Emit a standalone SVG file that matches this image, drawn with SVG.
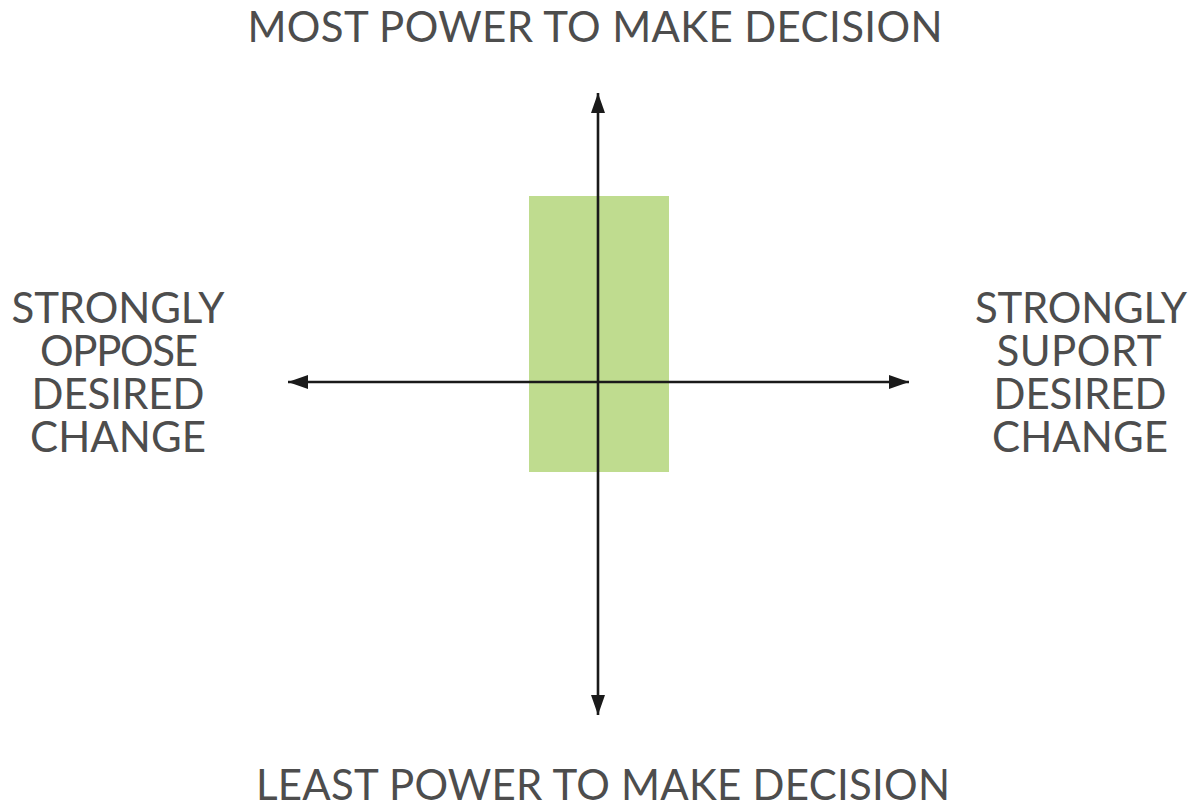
<svg xmlns="http://www.w3.org/2000/svg" width="1193" height="806" viewBox="0 0 1193 806">
<style>
.t{font-family:Lato,"Liberation Sans",sans-serif;font-size:42px;fill:#4d4d4d;text-anchor:middle;}
.ax{stroke:#1a1a1a;stroke-width:2.6;fill:none;}
</style>
<defs>
<marker id="ah" viewBox="0 0 20 14" refX="20" refY="7" markerWidth="20" markerHeight="14" markerUnits="userSpaceOnUse" orient="auto">
<path d="M0,0 L20,7 L0,14 z" fill="#1a1a1a"/>
</marker>
</defs>
<rect width="1193" height="806" fill="#ffffff"/>
<g id="quadrant">
<rect x="529" y="196" width="140" height="276" fill="#bfdc8f"/>
</g>
<g id="connectors">
<line class="ax" x1="598" y1="382" x2="598" y2="93" marker-end="url(#ah)"/>
<line class="ax" x1="598" y1="382" x2="598" y2="715" marker-end="url(#ah)"/>
<line class="ax" x1="598" y1="382" x2="288" y2="382" marker-end="url(#ah)"/>
<line class="ax" x1="598" y1="382" x2="909" y2="382" marker-end="url(#ah)"/>
</g>
<g id="top-label"><text class="t" x="595" y="42" textLength="695">MOST POWER TO MAKE DECISION</text></g>
<g id="bottom-label"><text class="t" x="603" y="800" textLength="694">LEAST POWER TO MAKE DECISION</text></g>
<g id="left-label">
<text class="t" x="118" y="323" textLength="213">STRONGLY</text>
<text class="t" x="119" y="366" textLength="158">OPPOSE</text>
<text class="t" x="118" y="409" textLength="173">DESIRED</text>
<text class="t" x="118" y="452" textLength="176">CHANGE</text>
</g>
<g id="right-label">
<text class="t" x="1081" y="323" textLength="212">STRONGLY</text>
<text class="t" x="1079" y="366" textLength="165">SUPORT</text>
<text class="t" x="1080" y="409" textLength="173">DESIRED</text>
<text class="t" x="1080" y="452" textLength="176">CHANGE</text>
</g>
</svg>
